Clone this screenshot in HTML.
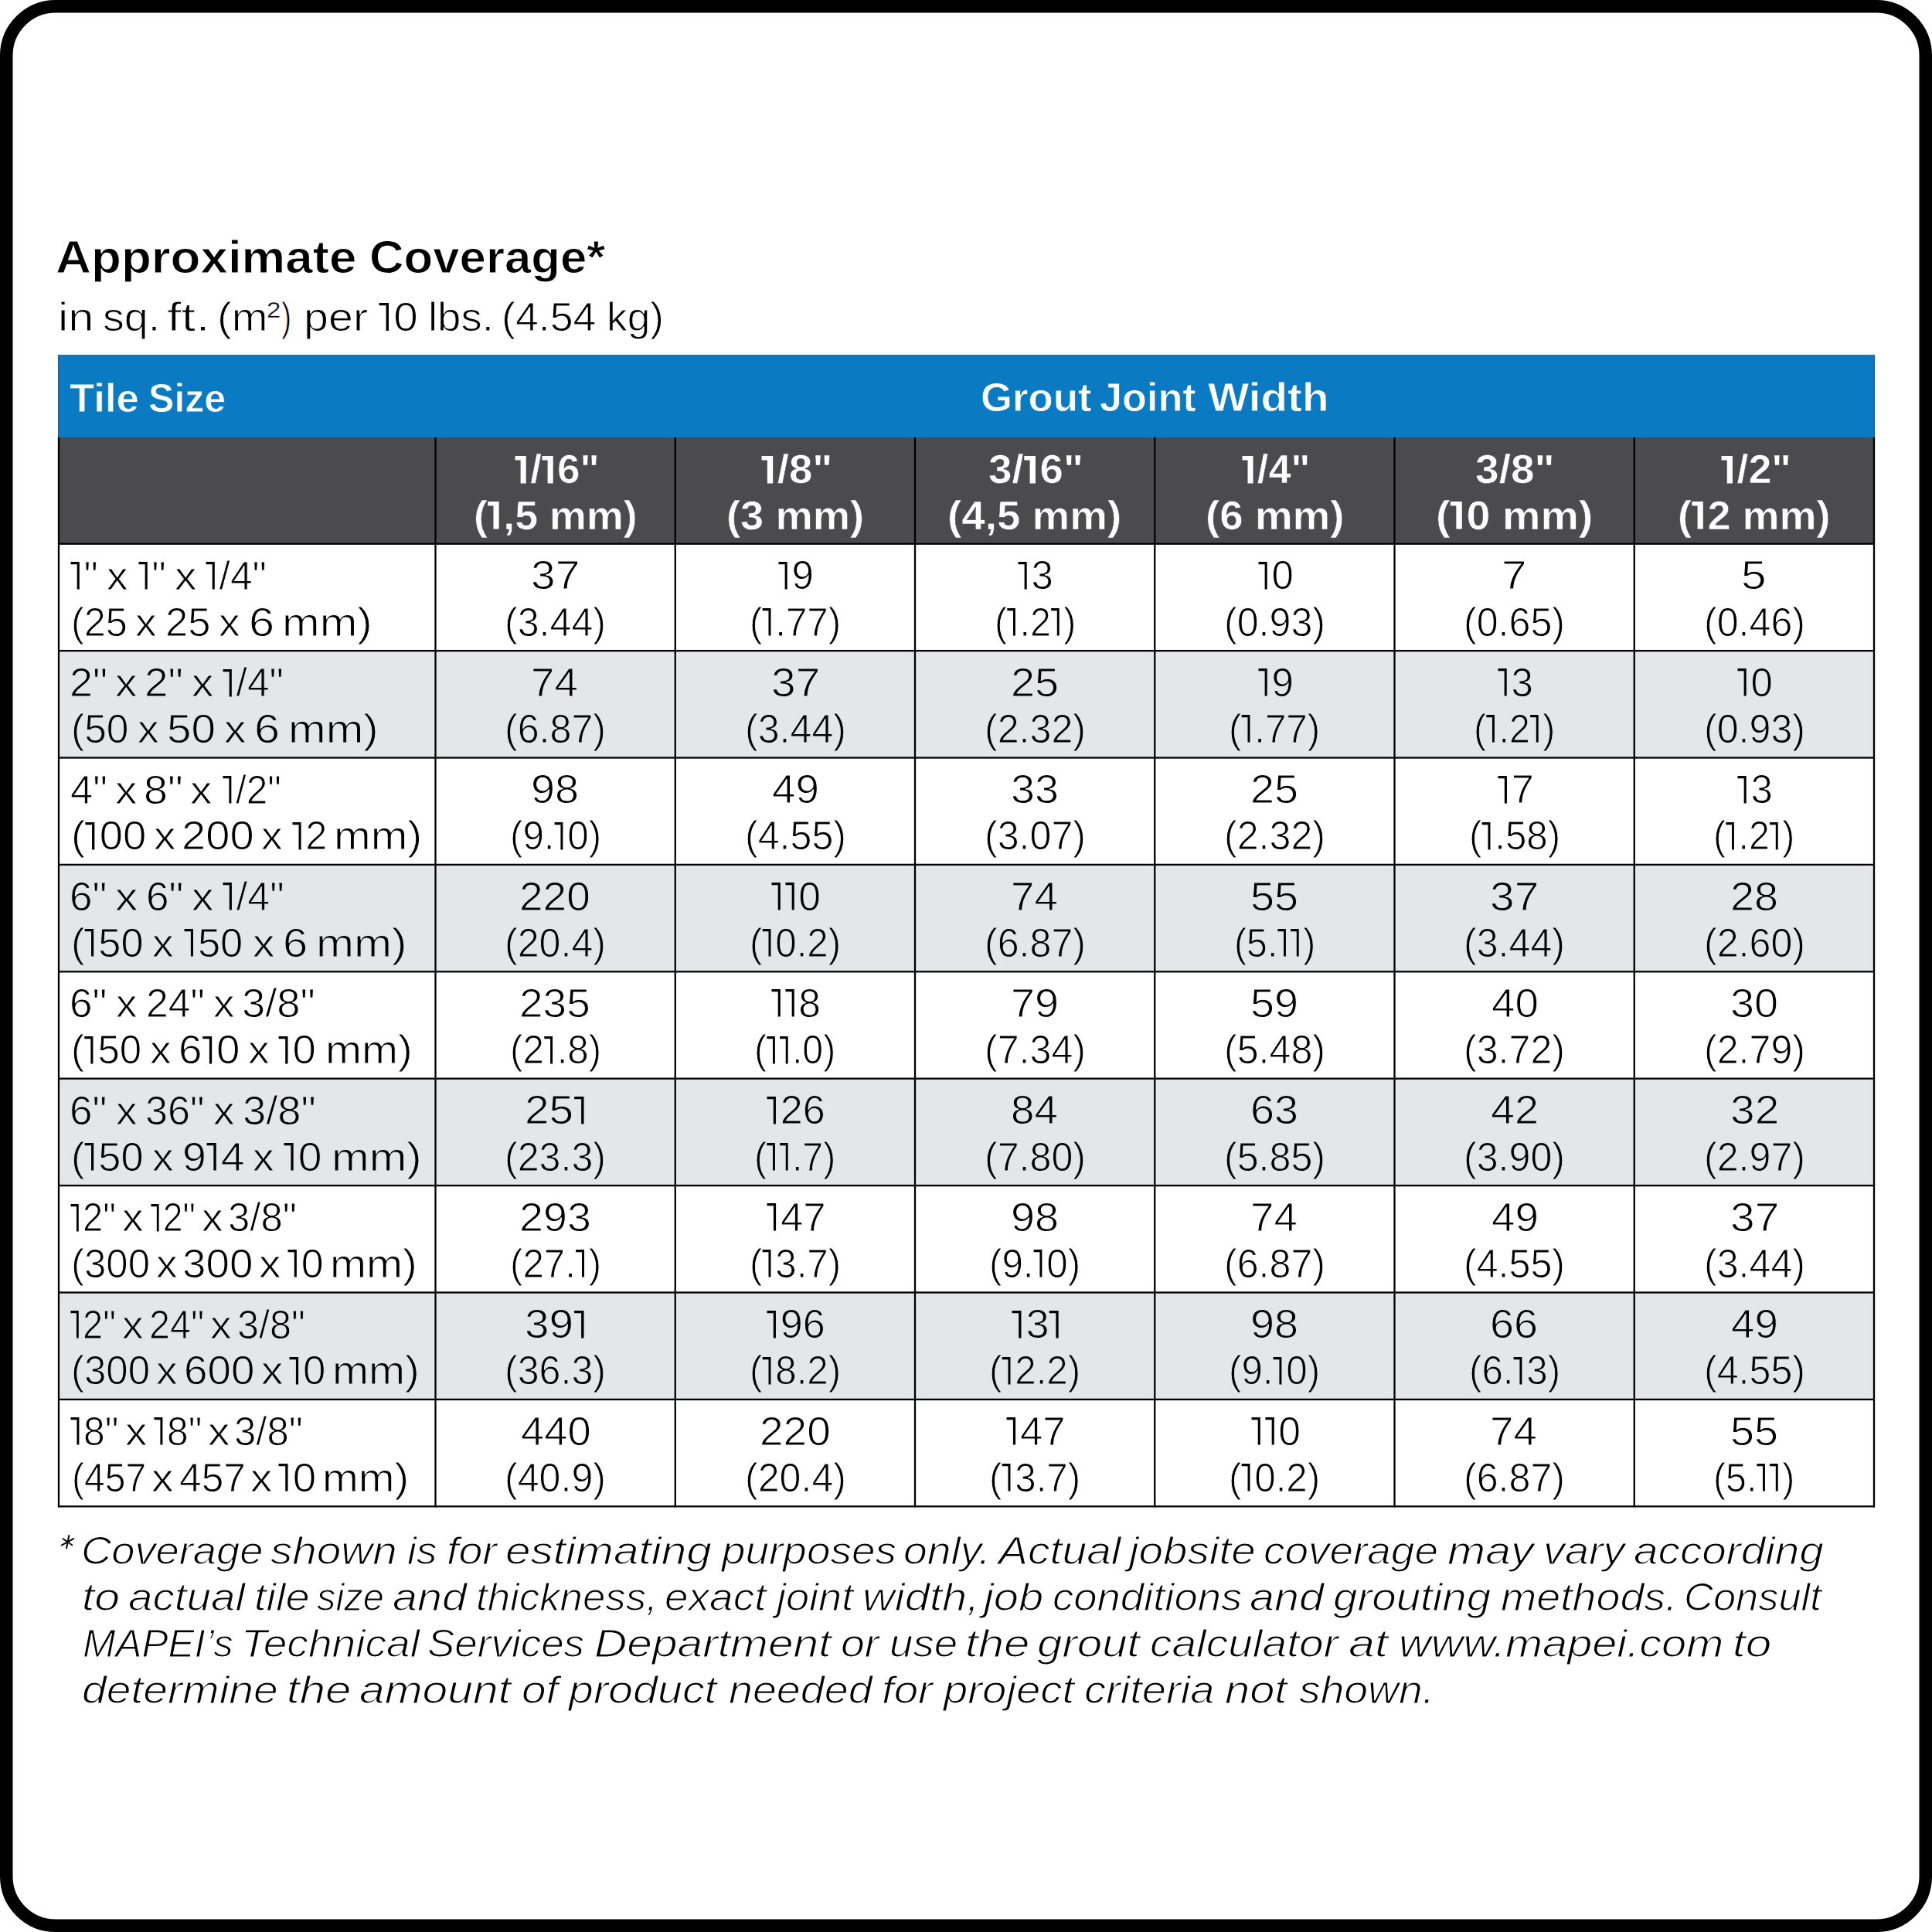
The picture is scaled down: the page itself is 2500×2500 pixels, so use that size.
<!DOCTYPE html><html><head><meta charset="utf-8"><style>html,body{margin:0;padding:0;background:#fff;width:2500px;height:2500px;overflow:hidden}.t{position:absolute;white-space:nowrap;font-family:"Liberation Sans",sans-serif;transform-origin:0 0}.o1,.ob{display:inline-block;height:.688em;vertical-align:baseline;fill:currentColor;overflow:visible}.o1{width:.341em}.ob{width:.38em}</style></head><body>
<svg width="2500" height="2500" viewBox="0 0 2500 2500" style="position:absolute;left:0;top:0"><rect x="75.0" y="459.0" width="2351.0" height="107.0" fill="#0a7bc2"/><rect x="75.0" y="566.0" width="2351.0" height="137.70000000000005" fill="#4b4b4d"/><rect x="75.0" y="842.10" width="2351.0" height="138.40" fill="#e5e6e8"/><rect x="75.0" y="1118.90" width="2351.0" height="138.40" fill="#e5e6e8"/><rect x="75.0" y="1395.70" width="2351.0" height="138.40" fill="#e5e6e8"/><rect x="75.0" y="1672.50" width="2351.0" height="138.40" fill="#e5e6e8"/><rect x="75.0" y="459.0" width="1.2" height="107.0" fill="#1b5a87"/><rect x="2424.8" y="459.0" width="1.2" height="107.0" fill="#1b5a87"/><rect x="74.85" y="566.0" width="2.3" height="1384.45" fill="#000"/><rect x="562.35" y="566.0" width="2.3" height="1384.45" fill="#000"/><rect x="872.60" y="566.0" width="2.3" height="1384.45" fill="#000"/><rect x="1182.85" y="566.0" width="2.3" height="1384.45" fill="#000"/><rect x="1493.10" y="566.0" width="2.3" height="1384.45" fill="#000"/><rect x="1803.35" y="566.0" width="2.3" height="1384.45" fill="#000"/><rect x="2113.60" y="566.0" width="2.3" height="1384.45" fill="#000"/><rect x="2423.85" y="566.0" width="2.3" height="1384.45" fill="#000"/><rect x="75.0" y="702.55" width="2351.0" height="2.3" fill="#000"/><rect x="75.0" y="840.95" width="2351.0" height="2.3" fill="#000"/><rect x="75.0" y="979.35" width="2351.0" height="2.3" fill="#000"/><rect x="75.0" y="1117.75" width="2351.0" height="2.3" fill="#000"/><rect x="75.0" y="1256.15" width="2351.0" height="2.3" fill="#000"/><rect x="75.0" y="1394.55" width="2351.0" height="2.3" fill="#000"/><rect x="75.0" y="1532.95" width="2351.0" height="2.3" fill="#000"/><rect x="75.0" y="1671.35" width="2351.0" height="2.3" fill="#000"/><rect x="75.0" y="1809.75" width="2351.0" height="2.3" fill="#000"/><rect x="75.0" y="1948.15" width="2351.0" height="2.3" fill="#000"/><rect x="8.25" y="8.25" width="2483.5" height="2483.5" rx="63.75" ry="63.75" fill="none" stroke="#000" stroke-width="16.5"/><g stroke="#000" stroke-width="2.0" fill="none"><line x1="89.4" y1="1986.3" x2="85.9" y2="2004.0"/><line x1="81.0" y1="1990.8" x2="93.9" y2="1999.7"/><line x1="95.9" y1="1990.7" x2="79.2" y2="1999.8"/></g></svg>
<div class="t" style="left:72.29px;top:302.80px;font-size:59.6px;line-height:59.6px;font-weight:700;font-style:normal;color:#000;transform:scaleX(1.0688);-webkit-text-stroke:1.0px #fff">Approximate</div>
<div class="t" style="left:477.59px;top:302.80px;font-size:59.6px;line-height:59.6px;font-weight:700;font-style:normal;color:#000;transform:scaleX(1.0354);-webkit-text-stroke:1.0px #fff">Coverage*</div>
<div class="t" style="left:74.54px;top:384.20px;font-size:52.3px;line-height:52.3px;font-weight:400;font-style:normal;color:#000;transform:scaleX(1.1394);-webkit-text-stroke:1.0px #fff">in</div>
<div class="t" style="left:133.37px;top:384.20px;font-size:52.3px;line-height:52.3px;font-weight:400;font-style:normal;color:#000;transform:scaleX(1.0645);-webkit-text-stroke:1.0px #fff">sq.</div>
<div class="t" style="left:215.62px;top:384.20px;font-size:52.3px;line-height:52.3px;font-weight:400;font-style:normal;color:#000;transform:scaleX(1.2784);-webkit-text-stroke:1.0px #fff">ft.</div>
<div class="t" style="left:281.11px;top:384.20px;font-size:52.3px;line-height:52.3px;font-weight:400;font-style:normal;color:#000;transform:scaleX(1.0736);-webkit-text-stroke:1.0px #fff">(m</div>
<div class="t" style="left:363.58px;top:384.20px;font-size:52.3px;line-height:52.3px;font-weight:400;font-style:normal;color:#000;transform:scaleX(0.7583);-webkit-text-stroke:1.0px #fff">)</div>
<div class="t" style="left:392.61px;top:384.20px;font-size:52.3px;line-height:52.3px;font-weight:400;font-style:normal;color:#000;transform:scaleX(1.0986);-webkit-text-stroke:1.0px #fff">per</div>
<div class="t" style="left:489.70px;top:384.20px;font-size:52.3px;line-height:52.3px;font-weight:400;font-style:normal;color:#000;transform:scaleX(1.0841);-webkit-text-stroke:1.0px #fff"><svg class="o1" viewBox="0 0 341 688"><path d="M169 0H229V688H169ZM10 0H229V62H10Z"/></svg>0</div>
<div class="t" style="left:553.53px;top:384.20px;font-size:52.3px;line-height:52.3px;font-weight:400;font-style:normal;color:#000;transform:scaleX(1.0431);-webkit-text-stroke:1.0px #fff">lbs.</div>
<div class="t" style="left:649.19px;top:384.20px;font-size:52.3px;line-height:52.3px;font-weight:400;font-style:normal;color:#000;transform:scaleX(1.0274);-webkit-text-stroke:1.0px #fff">(4.54</div>
<div class="t" style="left:784.93px;top:384.20px;font-size:52.3px;line-height:52.3px;font-weight:400;font-style:normal;color:#000;transform:scaleX(1.0185);-webkit-text-stroke:1.0px #fff">kg)</div>
<div class="t" style="left:345.20px;top:386.00px;font-size:30px;line-height:30px;font-weight:400;font-style:normal;color:#000;transform:scaleX(1.1000);-webkit-text-stroke:0.4px #fff">2</div>
<div class="t" style="left:89.98px;top:489.50px;font-size:51.5px;line-height:51.5px;font-weight:700;font-style:normal;color:#fff;transform:scaleX(1.0247);-webkit-text-stroke:0.8px #0a7bc2">Tile</div>
<div class="t" style="left:192.36px;top:489.50px;font-size:51.5px;line-height:51.5px;font-weight:700;font-style:normal;color:#fff;transform:scaleX(0.9717);-webkit-text-stroke:0.8px #0a7bc2">Size</div>
<div class="t" style="left:1268.52px;top:489.30px;font-size:51.5px;line-height:51.5px;font-weight:700;font-style:normal;color:#fff;transform:scaleX(1.0250);-webkit-text-stroke:0.8px #0a7bc2">Grout</div>
<div class="t" style="left:1422.97px;top:489.30px;font-size:51.5px;line-height:51.5px;font-weight:700;font-style:normal;color:#fff;transform:scaleX(1.0142);-webkit-text-stroke:0.8px #0a7bc2">Joint</div>
<div class="t" style="left:1563.40px;top:489.30px;font-size:51.5px;line-height:51.5px;font-weight:700;font-style:normal;color:#fff;transform:scaleX(1.0978);-webkit-text-stroke:0.8px #0a7bc2">Width</div>
<div class="t" style="left:665.62px;top:582.40px;font-size:51.5px;line-height:51.5px;font-weight:700;font-style:normal;color:#fff;transform:scaleX(1.0291);-webkit-text-stroke:0.6px #4b4b4d"><svg class="ob" viewBox="0 0 380 688"><path d="M144 0H278V688H144ZM10 0H278V106H10Z"/></svg>/<svg class="ob" viewBox="0 0 380 688"><path d="M144 0H278V688H144ZM10 0H278V106H10Z"/></svg>6&quot;</div>
<div class="t" style="left:612.69px;top:641.70px;font-size:51.5px;line-height:51.5px;font-weight:700;font-style:normal;color:#fff;transform:scaleX(1.0437);-webkit-text-stroke:0.6px #4b4b4d">(<svg class="ob" viewBox="0 0 380 688"><path d="M144 0H278V688H144ZM10 0H278V106H10Z"/></svg>,5 mm)</div>
<div class="t" style="left:984.83px;top:582.40px;font-size:51.5px;line-height:51.5px;font-weight:700;font-style:normal;color:#fff;transform:scaleX(1.0614);-webkit-text-stroke:0.6px #4b4b4d"><svg class="ob" viewBox="0 0 380 688"><path d="M144 0H278V688H144ZM10 0H278V106H10Z"/></svg>/8&quot;</div>
<div class="t" style="left:939.76px;top:641.70px;font-size:51.5px;line-height:51.5px;font-weight:700;font-style:normal;color:#fff;transform:scaleX(1.0546);-webkit-text-stroke:0.6px #4b4b4d">(3 mm)</div>
<div class="t" style="left:1278.50px;top:582.40px;font-size:51.5px;line-height:51.5px;font-weight:700;font-style:normal;color:#fff;transform:scaleX(1.0636);-webkit-text-stroke:0.6px #4b4b4d">3/<svg class="ob" viewBox="0 0 380 688"><path d="M144 0H278V688H144ZM10 0H278V106H10Z"/></svg>6&quot;</div>
<div class="t" style="left:1226.38px;top:641.70px;font-size:51.5px;line-height:51.5px;font-weight:700;font-style:normal;color:#fff;transform:scaleX(1.0636);-webkit-text-stroke:0.6px #4b4b4d">(4,5 mm)</div>
<div class="t" style="left:1607.22px;top:582.40px;font-size:51.5px;line-height:51.5px;font-weight:700;font-style:normal;color:#fff;transform:scaleX(1.0157);-webkit-text-stroke:0.6px #4b4b4d"><svg class="ob" viewBox="0 0 380 688"><path d="M144 0H278V688H144ZM10 0H278V106H10Z"/></svg>/4&quot;</div>
<div class="t" style="left:1559.54px;top:641.70px;font-size:51.5px;line-height:51.5px;font-weight:700;font-style:normal;color:#fff;transform:scaleX(1.0632);-webkit-text-stroke:0.6px #4b4b4d">(6 mm)</div>
<div class="t" style="left:1909.33px;top:582.40px;font-size:51.5px;line-height:51.5px;font-weight:700;font-style:normal;color:#fff;transform:scaleX(1.0700);-webkit-text-stroke:0.6px #4b4b4d">3/8&quot;</div>
<div class="t" style="left:1858.19px;top:641.70px;font-size:51.5px;line-height:51.5px;font-weight:700;font-style:normal;color:#fff;transform:scaleX(1.0791);-webkit-text-stroke:0.6px #4b4b4d">(<svg class="ob" viewBox="0 0 380 688"><path d="M144 0H278V688H144ZM10 0H278V106H10Z"/></svg>0 mm)</div>
<div class="t" style="left:2226.53px;top:582.40px;font-size:51.5px;line-height:51.5px;font-weight:700;font-style:normal;color:#fff;transform:scaleX(1.0446);-webkit-text-stroke:0.6px #4b4b4d"><svg class="ob" viewBox="0 0 380 688"><path d="M144 0H278V688H144ZM10 0H278V106H10Z"/></svg>/2&quot;</div>
<div class="t" style="left:2171.38px;top:641.70px;font-size:51.5px;line-height:51.5px;font-weight:700;font-style:normal;color:#fff;transform:scaleX(1.0478);-webkit-text-stroke:0.6px #4b4b4d">(<svg class="ob" viewBox="0 0 380 688"><path d="M144 0H278V688H144ZM10 0H278V106H10Z"/></svg>2 mm)</div>
<div class="t" style="left:91.20px;top:719.75px;font-size:51.8px;line-height:51.8px;font-weight:400;font-style:normal;color:#000;transform:scaleX(0.9939);-webkit-text-stroke:1.0px #fff"><svg class="o1" viewBox="0 0 341 688"><path d="M169 0H229V688H169ZM10 0H229V62H10Z"/></svg>&quot;</div>
<div class="t" style="left:138.27px;top:719.75px;font-size:51.8px;line-height:51.8px;font-weight:400;font-style:normal;color:#000;transform:scaleX(1.0636);-webkit-text-stroke:1.0px #fff">x</div>
<div class="t" style="left:178.80px;top:719.75px;font-size:51.8px;line-height:51.8px;font-weight:400;font-style:normal;color:#000;transform:scaleX(0.9909);-webkit-text-stroke:1.0px #fff"><svg class="o1" viewBox="0 0 341 688"><path d="M169 0H229V688H169ZM10 0H229V62H10Z"/></svg>&quot;</div>
<div class="t" style="left:225.70px;top:719.75px;font-size:51.8px;line-height:51.8px;font-weight:400;font-style:normal;color:#000;transform:scaleX(1.1000);-webkit-text-stroke:1.0px #fff">x</div>
<div class="t" style="left:265.60px;top:719.75px;font-size:51.8px;line-height:51.8px;font-weight:400;font-style:normal;color:#000;transform:scaleX(0.9961);-webkit-text-stroke:1.0px #fff"><svg class="o1" viewBox="0 0 341 688"><path d="M169 0H229V688H169ZM10 0H229V62H10Z"/></svg>/4&quot;</div>
<div class="t" style="left:92.31px;top:779.65px;font-size:51.8px;line-height:51.8px;font-weight:400;font-style:normal;color:#000;transform:scaleX(0.9735);-webkit-text-stroke:1.0px #fff">(25</div>
<div class="t" style="left:175.26px;top:779.65px;font-size:51.8px;line-height:51.8px;font-weight:400;font-style:normal;color:#000;transform:scaleX(1.0682);-webkit-text-stroke:1.0px #fff">x</div>
<div class="t" style="left:214.16px;top:779.65px;font-size:51.8px;line-height:51.8px;font-weight:400;font-style:normal;color:#000;transform:scaleX(1.0135);-webkit-text-stroke:1.0px #fff">25</div>
<div class="t" style="left:283.46px;top:779.65px;font-size:51.8px;line-height:51.8px;font-weight:400;font-style:normal;color:#000;transform:scaleX(1.0682);-webkit-text-stroke:1.0px #fff">x</div>
<div class="t" style="left:322.16px;top:779.65px;font-size:51.8px;line-height:51.8px;font-weight:400;font-style:normal;color:#000;transform:scaleX(1.1478);-webkit-text-stroke:1.0px #fff">6</div>
<div class="t" style="left:365.29px;top:779.65px;font-size:51.8px;line-height:51.8px;font-weight:400;font-style:normal;color:#000;transform:scaleX(1.1271);-webkit-text-stroke:1.0px #fff">mm)</div>
<div class="t" style="left:687.33px;top:719.45px;font-size:51.8px;line-height:51.8px;font-weight:400;font-style:normal;color:#000;transform:scaleX(1.0980);-webkit-text-stroke:1.0px #fff">37</div>
<div class="t" style="left:653.25px;top:779.65px;font-size:51.8px;line-height:51.8px;font-weight:400;font-style:normal;color:#000;transform:scaleX(0.9685);-webkit-text-stroke:1.0px #fff">(3.44)</div>
<div class="t" style="left:1007.17px;top:719.45px;font-size:51.8px;line-height:51.8px;font-weight:400;font-style:normal;color:#000;transform:scaleX(0.9864);-webkit-text-stroke:1.0px #fff"><svg class="o1" viewBox="0 0 341 688"><path d="M169 0H229V688H169ZM10 0H229V62H10Z"/></svg>9</div>
<div class="t" style="left:969.87px;top:779.65px;font-size:51.8px;line-height:51.8px;font-weight:400;font-style:normal;color:#000;transform:scaleX(0.9517);-webkit-text-stroke:1.0px #fff">(<svg class="o1" viewBox="0 0 341 688"><path d="M169 0H229V688H169ZM10 0H229V62H10Z"/></svg>.77)</div>
<div class="t" style="left:1317.42px;top:719.45px;font-size:51.8px;line-height:51.8px;font-weight:400;font-style:normal;color:#000;transform:scaleX(0.9864);-webkit-text-stroke:1.0px #fff"><svg class="o1" viewBox="0 0 341 688"><path d="M169 0H229V688H169ZM10 0H229V62H10Z"/></svg>3</div>
<div class="t" style="left:1286.50px;top:779.65px;font-size:51.8px;line-height:51.8px;font-weight:400;font-style:normal;color:#000;transform:scaleX(0.9314);-webkit-text-stroke:1.0px #fff">(<svg class="o1" viewBox="0 0 341 688"><path d="M169 0H229V688H169ZM10 0H229V62H10Z"/></svg>.2<svg class="o1" viewBox="0 0 341 688"><path d="M169 0H229V688H169ZM10 0H229V62H10Z"/></svg>)</div>
<div class="t" style="left:1627.67px;top:719.45px;font-size:51.8px;line-height:51.8px;font-weight:400;font-style:normal;color:#000;transform:scaleX(0.9864);-webkit-text-stroke:1.0px #fff"><svg class="o1" viewBox="0 0 341 688"><path d="M169 0H229V688H169ZM10 0H229V62H10Z"/></svg>0</div>
<div class="t" style="left:1584.00px;top:779.65px;font-size:51.8px;line-height:51.8px;font-weight:400;font-style:normal;color:#000;transform:scaleX(0.9685);-webkit-text-stroke:1.0px #fff">(0.93)</div>
<div class="t" style="left:1943.23px;top:719.45px;font-size:51.8px;line-height:51.8px;font-weight:400;font-style:normal;color:#000;transform:scaleX(1.1304);-webkit-text-stroke:1.0px #fff">7</div>
<div class="t" style="left:1894.25px;top:779.65px;font-size:51.8px;line-height:51.8px;font-weight:400;font-style:normal;color:#000;transform:scaleX(0.9685);-webkit-text-stroke:1.0px #fff">(0.65)</div>
<div class="t" style="left:2253.48px;top:719.45px;font-size:51.8px;line-height:51.8px;font-weight:400;font-style:normal;color:#000;transform:scaleX(1.1304);-webkit-text-stroke:1.0px #fff">5</div>
<div class="t" style="left:2204.50px;top:779.65px;font-size:51.8px;line-height:51.8px;font-weight:400;font-style:normal;color:#000;transform:scaleX(0.9685);-webkit-text-stroke:1.0px #fff">(0.46)</div>
<div class="t" style="left:89.58px;top:858.15px;font-size:51.8px;line-height:51.8px;font-weight:400;font-style:normal;color:#000;transform:scaleX(1.0415);-webkit-text-stroke:1.0px #e5e6e8">2&quot;</div>
<div class="t" style="left:148.80px;top:858.15px;font-size:51.8px;line-height:51.8px;font-weight:400;font-style:normal;color:#000;transform:scaleX(1.1000);-webkit-text-stroke:1.0px #e5e6e8">x</div>
<div class="t" style="left:187.02px;top:858.15px;font-size:51.8px;line-height:51.8px;font-weight:400;font-style:normal;color:#000;transform:scaleX(1.0585);-webkit-text-stroke:1.0px #e5e6e8">2&quot;</div>
<div class="t" style="left:247.80px;top:858.15px;font-size:51.8px;line-height:51.8px;font-weight:400;font-style:normal;color:#000;transform:scaleX(1.1000);-webkit-text-stroke:1.0px #e5e6e8">x</div>
<div class="t" style="left:287.70px;top:858.15px;font-size:51.8px;line-height:51.8px;font-weight:400;font-style:normal;color:#000;transform:scaleX(0.9961);-webkit-text-stroke:1.0px #e5e6e8"><svg class="o1" viewBox="0 0 341 688"><path d="M169 0H229V688H169ZM10 0H229V62H10Z"/></svg>/4&quot;</div>
<div class="t" style="left:92.22px;top:918.05px;font-size:51.8px;line-height:51.8px;font-weight:400;font-style:normal;color:#000;transform:scaleX(0.9941);-webkit-text-stroke:1.0px #e5e6e8">(50</div>
<div class="t" style="left:178.06px;top:918.05px;font-size:51.8px;line-height:51.8px;font-weight:400;font-style:normal;color:#000;transform:scaleX(1.0682);-webkit-text-stroke:1.0px #e5e6e8">x</div>
<div class="t" style="left:216.12px;top:918.05px;font-size:51.8px;line-height:51.8px;font-weight:400;font-style:normal;color:#000;transform:scaleX(1.0942);-webkit-text-stroke:1.0px #e5e6e8">50</div>
<div class="t" style="left:289.80px;top:918.05px;font-size:51.8px;line-height:51.8px;font-weight:400;font-style:normal;color:#000;transform:scaleX(1.1000);-webkit-text-stroke:1.0px #e5e6e8">x</div>
<div class="t" style="left:329.26px;top:918.05px;font-size:51.8px;line-height:51.8px;font-weight:400;font-style:normal;color:#000;transform:scaleX(1.1478);-webkit-text-stroke:1.0px #e5e6e8">6</div>
<div class="t" style="left:373.09px;top:918.05px;font-size:51.8px;line-height:51.8px;font-weight:400;font-style:normal;color:#000;transform:scaleX(1.1271);-webkit-text-stroke:1.0px #e5e6e8">mm)</div>
<div class="t" style="left:687.46px;top:857.85px;font-size:51.8px;line-height:51.8px;font-weight:400;font-style:normal;color:#000;transform:scaleX(1.0566);-webkit-text-stroke:1.0px #e5e6e8">74</div>
<div class="t" style="left:653.25px;top:918.05px;font-size:51.8px;line-height:51.8px;font-weight:400;font-style:normal;color:#000;transform:scaleX(0.9685);-webkit-text-stroke:1.0px #e5e6e8">(6.87)</div>
<div class="t" style="left:997.58px;top:857.85px;font-size:51.8px;line-height:51.8px;font-weight:400;font-style:normal;color:#000;transform:scaleX(1.0980);-webkit-text-stroke:1.0px #e5e6e8">37</div>
<div class="t" style="left:963.50px;top:918.05px;font-size:51.8px;line-height:51.8px;font-weight:400;font-style:normal;color:#000;transform:scaleX(0.9685);-webkit-text-stroke:1.0px #e5e6e8">(3.44)</div>
<div class="t" style="left:1307.89px;top:857.85px;font-size:51.8px;line-height:51.8px;font-weight:400;font-style:normal;color:#000;transform:scaleX(1.0769);-webkit-text-stroke:1.0px #e5e6e8">25</div>
<div class="t" style="left:1273.75px;top:918.05px;font-size:51.8px;line-height:51.8px;font-weight:400;font-style:normal;color:#000;transform:scaleX(0.9685);-webkit-text-stroke:1.0px #e5e6e8">(2.32)</div>
<div class="t" style="left:1627.67px;top:857.85px;font-size:51.8px;line-height:51.8px;font-weight:400;font-style:normal;color:#000;transform:scaleX(0.9864);-webkit-text-stroke:1.0px #e5e6e8"><svg class="o1" viewBox="0 0 341 688"><path d="M169 0H229V688H169ZM10 0H229V62H10Z"/></svg>9</div>
<div class="t" style="left:1590.37px;top:918.05px;font-size:51.8px;line-height:51.8px;font-weight:400;font-style:normal;color:#000;transform:scaleX(0.9517);-webkit-text-stroke:1.0px #e5e6e8">(<svg class="o1" viewBox="0 0 341 688"><path d="M169 0H229V688H169ZM10 0H229V62H10Z"/></svg>.77)</div>
<div class="t" style="left:1937.92px;top:857.85px;font-size:51.8px;line-height:51.8px;font-weight:400;font-style:normal;color:#000;transform:scaleX(0.9864);-webkit-text-stroke:1.0px #e5e6e8"><svg class="o1" viewBox="0 0 341 688"><path d="M169 0H229V688H169ZM10 0H229V62H10Z"/></svg>3</div>
<div class="t" style="left:1907.00px;top:918.05px;font-size:51.8px;line-height:51.8px;font-weight:400;font-style:normal;color:#000;transform:scaleX(0.9314);-webkit-text-stroke:1.0px #e5e6e8">(<svg class="o1" viewBox="0 0 341 688"><path d="M169 0H229V688H169ZM10 0H229V62H10Z"/></svg>.2<svg class="o1" viewBox="0 0 341 688"><path d="M169 0H229V688H169ZM10 0H229V62H10Z"/></svg>)</div>
<div class="t" style="left:2248.18px;top:857.85px;font-size:51.8px;line-height:51.8px;font-weight:400;font-style:normal;color:#000;transform:scaleX(0.9864);-webkit-text-stroke:1.0px #e5e6e8"><svg class="o1" viewBox="0 0 341 688"><path d="M169 0H229V688H169ZM10 0H229V62H10Z"/></svg>0</div>
<div class="t" style="left:2204.50px;top:918.05px;font-size:51.8px;line-height:51.8px;font-weight:400;font-style:normal;color:#000;transform:scaleX(0.9685);-webkit-text-stroke:1.0px #e5e6e8">(0.93)</div>
<div class="t" style="left:90.67px;top:996.55px;font-size:51.8px;line-height:51.8px;font-weight:400;font-style:normal;color:#000;transform:scaleX(1.0167);-webkit-text-stroke:1.0px #fff">4&quot;</div>
<div class="t" style="left:148.80px;top:996.55px;font-size:51.8px;line-height:51.8px;font-weight:400;font-style:normal;color:#000;transform:scaleX(1.1000);-webkit-text-stroke:1.0px #fff">x</div>
<div class="t" style="left:186.27px;top:996.55px;font-size:51.8px;line-height:51.8px;font-weight:400;font-style:normal;color:#000;transform:scaleX(1.0756);-webkit-text-stroke:1.0px #fff">8&quot;</div>
<div class="t" style="left:245.60px;top:996.55px;font-size:51.8px;line-height:51.8px;font-weight:400;font-style:normal;color:#000;transform:scaleX(1.1000);-webkit-text-stroke:1.0px #fff">x</div>
<div class="t" style="left:287.70px;top:996.55px;font-size:51.8px;line-height:51.8px;font-weight:400;font-style:normal;color:#000;transform:scaleX(0.9579);-webkit-text-stroke:1.0px #fff"><svg class="o1" viewBox="0 0 341 688"><path d="M169 0H229V688H169ZM10 0H229V62H10Z"/></svg>/2&quot;</div>
<div class="t" style="left:92.00px;top:1056.45px;font-size:51.8px;line-height:51.8px;font-weight:400;font-style:normal;color:#000;transform:scaleX(1.0512);-webkit-text-stroke:1.0px #fff">(<svg class="o1" viewBox="0 0 341 688"><path d="M169 0H229V688H169ZM10 0H229V62H10Z"/></svg>00</div>
<div class="t" style="left:198.70px;top:1056.45px;font-size:51.8px;line-height:51.8px;font-weight:400;font-style:normal;color:#000;transform:scaleX(1.1000);-webkit-text-stroke:1.0px #fff">x</div>
<div class="t" style="left:235.35px;top:1056.45px;font-size:51.8px;line-height:51.8px;font-weight:400;font-style:normal;color:#000;transform:scaleX(1.0827);-webkit-text-stroke:1.0px #fff">200</div>
<div class="t" style="left:338.46px;top:1056.45px;font-size:51.8px;line-height:51.8px;font-weight:400;font-style:normal;color:#000;transform:scaleX(1.0682);-webkit-text-stroke:1.0px #fff">x</div>
<div class="t" style="left:377.60px;top:1056.45px;font-size:51.8px;line-height:51.8px;font-weight:400;font-style:normal;color:#000;transform:scaleX(0.9767);-webkit-text-stroke:1.0px #fff"><svg class="o1" viewBox="0 0 341 688"><path d="M169 0H229V688H169ZM10 0H229V62H10Z"/></svg>2</div>
<div class="t" style="left:432.28px;top:1056.45px;font-size:51.8px;line-height:51.8px;font-weight:400;font-style:normal;color:#000;transform:scaleX(1.1042);-webkit-text-stroke:1.0px #fff">mm)</div>
<div class="t" style="left:687.39px;top:996.25px;font-size:51.8px;line-height:51.8px;font-weight:400;font-style:normal;color:#000;transform:scaleX(1.0769);-webkit-text-stroke:1.0px #fff">98</div>
<div class="t" style="left:659.62px;top:1056.45px;font-size:51.8px;line-height:51.8px;font-weight:400;font-style:normal;color:#000;transform:scaleX(0.9517);-webkit-text-stroke:1.0px #fff">(9.<svg class="o1" viewBox="0 0 341 688"><path d="M169 0H229V688H169ZM10 0H229V62H10Z"/></svg>0)</div>
<div class="t" style="left:998.76px;top:996.25px;font-size:51.8px;line-height:51.8px;font-weight:400;font-style:normal;color:#000;transform:scaleX(1.0566);-webkit-text-stroke:1.0px #fff">49</div>
<div class="t" style="left:963.50px;top:1056.45px;font-size:51.8px;line-height:51.8px;font-weight:400;font-style:normal;color:#000;transform:scaleX(0.9685);-webkit-text-stroke:1.0px #fff">(4.55)</div>
<div class="t" style="left:1307.89px;top:996.25px;font-size:51.8px;line-height:51.8px;font-weight:400;font-style:normal;color:#000;transform:scaleX(1.0769);-webkit-text-stroke:1.0px #fff">33</div>
<div class="t" style="left:1273.75px;top:1056.45px;font-size:51.8px;line-height:51.8px;font-weight:400;font-style:normal;color:#000;transform:scaleX(0.9685);-webkit-text-stroke:1.0px #fff">(3.07)</div>
<div class="t" style="left:1618.14px;top:996.25px;font-size:51.8px;line-height:51.8px;font-weight:400;font-style:normal;color:#000;transform:scaleX(1.0769);-webkit-text-stroke:1.0px #fff">25</div>
<div class="t" style="left:1584.00px;top:1056.45px;font-size:51.8px;line-height:51.8px;font-weight:400;font-style:normal;color:#000;transform:scaleX(0.9685);-webkit-text-stroke:1.0px #fff">(2.32)</div>
<div class="t" style="left:1937.92px;top:996.25px;font-size:51.8px;line-height:51.8px;font-weight:400;font-style:normal;color:#000;transform:scaleX(1.0093);-webkit-text-stroke:1.0px #fff"><svg class="o1" viewBox="0 0 341 688"><path d="M169 0H229V688H169ZM10 0H229V62H10Z"/></svg>7</div>
<div class="t" style="left:1900.62px;top:1056.45px;font-size:51.8px;line-height:51.8px;font-weight:400;font-style:normal;color:#000;transform:scaleX(0.9517);-webkit-text-stroke:1.0px #fff">(<svg class="o1" viewBox="0 0 341 688"><path d="M169 0H229V688H169ZM10 0H229V62H10Z"/></svg>.58)</div>
<div class="t" style="left:2248.18px;top:996.25px;font-size:51.8px;line-height:51.8px;font-weight:400;font-style:normal;color:#000;transform:scaleX(0.9864);-webkit-text-stroke:1.0px #fff"><svg class="o1" viewBox="0 0 341 688"><path d="M169 0H229V688H169ZM10 0H229V62H10Z"/></svg>3</div>
<div class="t" style="left:2217.25px;top:1056.45px;font-size:51.8px;line-height:51.8px;font-weight:400;font-style:normal;color:#000;transform:scaleX(0.9314);-webkit-text-stroke:1.0px #fff">(<svg class="o1" viewBox="0 0 341 688"><path d="M169 0H229V688H169ZM10 0H229V62H10Z"/></svg>.2<svg class="o1" viewBox="0 0 341 688"><path d="M169 0H229V688H169ZM10 0H229V62H10Z"/></svg>)</div>
<div class="t" style="left:90.33px;top:1134.95px;font-size:51.8px;line-height:51.8px;font-weight:400;font-style:normal;color:#000;transform:scaleX(1.0244);-webkit-text-stroke:1.0px #e5e6e8">6&quot;</div>
<div class="t" style="left:149.43px;top:1134.95px;font-size:51.8px;line-height:51.8px;font-weight:400;font-style:normal;color:#000;transform:scaleX(1.1364);-webkit-text-stroke:1.0px #e5e6e8">x</div>
<div class="t" style="left:189.23px;top:1134.95px;font-size:51.8px;line-height:51.8px;font-weight:400;font-style:normal;color:#000;transform:scaleX(1.0244);-webkit-text-stroke:1.0px #e5e6e8">6&quot;</div>
<div class="t" style="left:247.80px;top:1134.95px;font-size:51.8px;line-height:51.8px;font-weight:400;font-style:normal;color:#000;transform:scaleX(1.1000);-webkit-text-stroke:1.0px #e5e6e8">x</div>
<div class="t" style="left:288.40px;top:1134.95px;font-size:51.8px;line-height:51.8px;font-weight:400;font-style:normal;color:#000;transform:scaleX(1.0053);-webkit-text-stroke:1.0px #e5e6e8"><svg class="o1" viewBox="0 0 341 688"><path d="M169 0H229V688H169ZM10 0H229V62H10Z"/></svg>/4&quot;</div>
<div class="t" style="left:92.16px;top:1194.85px;font-size:51.8px;line-height:51.8px;font-weight:400;font-style:normal;color:#000;transform:scaleX(1.0105);-webkit-text-stroke:1.0px #e5e6e8">(<svg class="o1" viewBox="0 0 341 688"><path d="M169 0H229V688H169ZM10 0H229V62H10Z"/></svg>50</div>
<div class="t" style="left:197.26px;top:1194.85px;font-size:51.8px;line-height:51.8px;font-weight:400;font-style:normal;color:#000;transform:scaleX(1.0682);-webkit-text-stroke:1.0px #e5e6e8">x</div>
<div class="t" style="left:237.90px;top:1194.85px;font-size:51.8px;line-height:51.8px;font-weight:400;font-style:normal;color:#000;transform:scaleX(1.0137);-webkit-text-stroke:1.0px #e5e6e8"><svg class="o1" viewBox="0 0 341 688"><path d="M169 0H229V688H169ZM10 0H229V62H10Z"/></svg>50</div>
<div class="t" style="left:327.00px;top:1194.85px;font-size:51.8px;line-height:51.8px;font-weight:400;font-style:normal;color:#000;transform:scaleX(1.1000);-webkit-text-stroke:1.0px #e5e6e8">x</div>
<div class="t" style="left:365.65px;top:1194.85px;font-size:51.8px;line-height:51.8px;font-weight:400;font-style:normal;color:#000;transform:scaleX(1.1174);-webkit-text-stroke:1.0px #e5e6e8">6</div>
<div class="t" style="left:408.66px;top:1194.85px;font-size:51.8px;line-height:51.8px;font-weight:400;font-style:normal;color:#000;transform:scaleX(1.1344);-webkit-text-stroke:1.0px #e5e6e8">mm)</div>
<div class="t" style="left:672.44px;top:1134.65px;font-size:51.8px;line-height:51.8px;font-weight:400;font-style:normal;color:#000;transform:scaleX(1.0617);-webkit-text-stroke:1.0px #e5e6e8">220</div>
<div class="t" style="left:653.25px;top:1194.85px;font-size:51.8px;line-height:51.8px;font-weight:400;font-style:normal;color:#000;transform:scaleX(0.9685);-webkit-text-stroke:1.0px #e5e6e8">(20.4)</div>
<div class="t" style="left:998.48px;top:1134.65px;font-size:51.8px;line-height:51.8px;font-weight:400;font-style:normal;color:#000;transform:scaleX(0.9967);-webkit-text-stroke:1.0px #e5e6e8"><svg class="o1" viewBox="0 0 341 688"><path d="M169 0H229V688H169ZM10 0H229V62H10Z"/></svg><svg class="o1" viewBox="0 0 341 688"><path d="M169 0H229V688H169ZM10 0H229V62H10Z"/></svg>0</div>
<div class="t" style="left:969.87px;top:1194.85px;font-size:51.8px;line-height:51.8px;font-weight:400;font-style:normal;color:#000;transform:scaleX(0.9517);-webkit-text-stroke:1.0px #e5e6e8">(<svg class="o1" viewBox="0 0 341 688"><path d="M169 0H229V688H169ZM10 0H229V62H10Z"/></svg>0.2)</div>
<div class="t" style="left:1307.96px;top:1134.65px;font-size:51.8px;line-height:51.8px;font-weight:400;font-style:normal;color:#000;transform:scaleX(1.0566);-webkit-text-stroke:1.0px #e5e6e8">74</div>
<div class="t" style="left:1273.75px;top:1194.85px;font-size:51.8px;line-height:51.8px;font-weight:400;font-style:normal;color:#000;transform:scaleX(0.9685);-webkit-text-stroke:1.0px #e5e6e8">(6.87)</div>
<div class="t" style="left:1618.14px;top:1134.65px;font-size:51.8px;line-height:51.8px;font-weight:400;font-style:normal;color:#000;transform:scaleX(1.0769);-webkit-text-stroke:1.0px #e5e6e8">55</div>
<div class="t" style="left:1596.75px;top:1194.85px;font-size:51.8px;line-height:51.8px;font-weight:400;font-style:normal;color:#000;transform:scaleX(0.9314);-webkit-text-stroke:1.0px #e5e6e8">(5.<svg class="o1" viewBox="0 0 341 688"><path d="M169 0H229V688H169ZM10 0H229V62H10Z"/></svg><svg class="o1" viewBox="0 0 341 688"><path d="M169 0H229V688H169ZM10 0H229V62H10Z"/></svg>)</div>
<div class="t" style="left:1928.33px;top:1134.65px;font-size:51.8px;line-height:51.8px;font-weight:400;font-style:normal;color:#000;transform:scaleX(1.0980);-webkit-text-stroke:1.0px #e5e6e8">37</div>
<div class="t" style="left:1894.25px;top:1194.85px;font-size:51.8px;line-height:51.8px;font-weight:400;font-style:normal;color:#000;transform:scaleX(0.9685);-webkit-text-stroke:1.0px #e5e6e8">(3.44)</div>
<div class="t" style="left:2238.64px;top:1134.65px;font-size:51.8px;line-height:51.8px;font-weight:400;font-style:normal;color:#000;transform:scaleX(1.0769);-webkit-text-stroke:1.0px #e5e6e8">28</div>
<div class="t" style="left:2204.50px;top:1194.85px;font-size:51.8px;line-height:51.8px;font-weight:400;font-style:normal;color:#000;transform:scaleX(0.9685);-webkit-text-stroke:1.0px #e5e6e8">(2.60)</div>
<div class="t" style="left:90.33px;top:1273.35px;font-size:51.8px;line-height:51.8px;font-weight:400;font-style:normal;color:#000;transform:scaleX(1.0244);-webkit-text-stroke:1.0px #fff">6&quot;</div>
<div class="t" style="left:150.37px;top:1273.35px;font-size:51.8px;line-height:51.8px;font-weight:400;font-style:normal;color:#000;transform:scaleX(1.0636);-webkit-text-stroke:1.0px #fff">x</div>
<div class="t" style="left:188.61px;top:1273.35px;font-size:51.8px;line-height:51.8px;font-weight:400;font-style:normal;color:#000;transform:scaleX(0.9971);-webkit-text-stroke:1.0px #fff">24&quot;</div>
<div class="t" style="left:276.37px;top:1273.35px;font-size:51.8px;line-height:51.8px;font-weight:400;font-style:normal;color:#000;transform:scaleX(1.0636);-webkit-text-stroke:1.0px #fff">x</div>
<div class="t" style="left:313.05px;top:1273.35px;font-size:51.8px;line-height:51.8px;font-weight:400;font-style:normal;color:#000;transform:scaleX(1.0494);-webkit-text-stroke:1.0px #fff">3/8&quot;</div>
<div class="t" style="left:92.26px;top:1333.25px;font-size:51.8px;line-height:51.8px;font-weight:400;font-style:normal;color:#000;transform:scaleX(0.9849);-webkit-text-stroke:1.0px #fff">(<svg class="o1" viewBox="0 0 341 688"><path d="M169 0H229V688H169ZM10 0H229V62H10Z"/></svg>50</div>
<div class="t" style="left:194.46px;top:1333.25px;font-size:51.8px;line-height:51.8px;font-weight:400;font-style:normal;color:#000;transform:scaleX(1.0682);-webkit-text-stroke:1.0px #fff">x</div>
<div class="t" style="left:231.13px;top:1333.25px;font-size:51.8px;line-height:51.8px;font-weight:400;font-style:normal;color:#000;transform:scaleX(1.0571);-webkit-text-stroke:1.0px #fff">6<svg class="o1" viewBox="0 0 341 688"><path d="M169 0H229V688H169ZM10 0H229V62H10Z"/></svg>0</div>
<div class="t" style="left:321.36px;top:1333.25px;font-size:51.8px;line-height:51.8px;font-weight:400;font-style:normal;color:#000;transform:scaleX(1.0682);-webkit-text-stroke:1.0px #fff">x</div>
<div class="t" style="left:359.80px;top:1333.25px;font-size:51.8px;line-height:51.8px;font-weight:400;font-style:normal;color:#000;transform:scaleX(1.0523);-webkit-text-stroke:1.0px #fff"><svg class="o1" viewBox="0 0 341 688"><path d="M169 0H229V688H169ZM10 0H229V62H10Z"/></svg>0</div>
<div class="t" style="left:420.94px;top:1333.25px;font-size:51.8px;line-height:51.8px;font-weight:400;font-style:normal;color:#000;transform:scaleX(1.0896);-webkit-text-stroke:1.0px #fff">mm)</div>
<div class="t" style="left:672.44px;top:1273.05px;font-size:51.8px;line-height:51.8px;font-weight:400;font-style:normal;color:#000;transform:scaleX(1.0617);-webkit-text-stroke:1.0px #fff">235</div>
<div class="t" style="left:659.62px;top:1333.25px;font-size:51.8px;line-height:51.8px;font-weight:400;font-style:normal;color:#000;transform:scaleX(0.9517);-webkit-text-stroke:1.0px #fff">(2<svg class="o1" viewBox="0 0 341 688"><path d="M169 0H229V688H169ZM10 0H229V62H10Z"/></svg>.8)</div>
<div class="t" style="left:998.48px;top:1273.05px;font-size:51.8px;line-height:51.8px;font-weight:400;font-style:normal;color:#000;transform:scaleX(0.9967);-webkit-text-stroke:1.0px #fff"><svg class="o1" viewBox="0 0 341 688"><path d="M169 0H229V688H169ZM10 0H229V62H10Z"/></svg><svg class="o1" viewBox="0 0 341 688"><path d="M169 0H229V688H169ZM10 0H229V62H10Z"/></svg>8</div>
<div class="t" style="left:976.25px;top:1333.25px;font-size:51.8px;line-height:51.8px;font-weight:400;font-style:normal;color:#000;transform:scaleX(0.9314);-webkit-text-stroke:1.0px #fff">(<svg class="o1" viewBox="0 0 341 688"><path d="M169 0H229V688H169ZM10 0H229V62H10Z"/></svg><svg class="o1" viewBox="0 0 341 688"><path d="M169 0H229V688H169ZM10 0H229V62H10Z"/></svg>.0)</div>
<div class="t" style="left:1307.89px;top:1273.05px;font-size:51.8px;line-height:51.8px;font-weight:400;font-style:normal;color:#000;transform:scaleX(1.0769);-webkit-text-stroke:1.0px #fff">79</div>
<div class="t" style="left:1273.75px;top:1333.25px;font-size:51.8px;line-height:51.8px;font-weight:400;font-style:normal;color:#000;transform:scaleX(0.9685);-webkit-text-stroke:1.0px #fff">(7.34)</div>
<div class="t" style="left:1618.14px;top:1273.05px;font-size:51.8px;line-height:51.8px;font-weight:400;font-style:normal;color:#000;transform:scaleX(1.0769);-webkit-text-stroke:1.0px #fff">59</div>
<div class="t" style="left:1584.00px;top:1333.25px;font-size:51.8px;line-height:51.8px;font-weight:400;font-style:normal;color:#000;transform:scaleX(0.9685);-webkit-text-stroke:1.0px #fff">(5.48)</div>
<div class="t" style="left:1929.51px;top:1273.05px;font-size:51.8px;line-height:51.8px;font-weight:400;font-style:normal;color:#000;transform:scaleX(1.0566);-webkit-text-stroke:1.0px #fff">40</div>
<div class="t" style="left:1894.25px;top:1333.25px;font-size:51.8px;line-height:51.8px;font-weight:400;font-style:normal;color:#000;transform:scaleX(0.9685);-webkit-text-stroke:1.0px #fff">(3.72)</div>
<div class="t" style="left:2238.64px;top:1273.05px;font-size:51.8px;line-height:51.8px;font-weight:400;font-style:normal;color:#000;transform:scaleX(1.0769);-webkit-text-stroke:1.0px #fff">30</div>
<div class="t" style="left:2204.50px;top:1333.25px;font-size:51.8px;line-height:51.8px;font-weight:400;font-style:normal;color:#000;transform:scaleX(0.9685);-webkit-text-stroke:1.0px #fff">(2.79)</div>
<div class="t" style="left:90.33px;top:1411.75px;font-size:51.8px;line-height:51.8px;font-weight:400;font-style:normal;color:#000;transform:scaleX(1.0244);-webkit-text-stroke:1.0px #e5e6e8">6&quot;</div>
<div class="t" style="left:150.37px;top:1411.75px;font-size:51.8px;line-height:51.8px;font-weight:400;font-style:normal;color:#000;transform:scaleX(1.0636);-webkit-text-stroke:1.0px #e5e6e8">x</div>
<div class="t" style="left:187.88px;top:1411.75px;font-size:51.8px;line-height:51.8px;font-weight:400;font-style:normal;color:#000;transform:scaleX(1.0071);-webkit-text-stroke:1.0px #e5e6e8">36&quot;</div>
<div class="t" style="left:276.37px;top:1411.75px;font-size:51.8px;line-height:51.8px;font-weight:400;font-style:normal;color:#000;transform:scaleX(1.0636);-webkit-text-stroke:1.0px #e5e6e8">x</div>
<div class="t" style="left:313.75px;top:1411.75px;font-size:51.8px;line-height:51.8px;font-weight:400;font-style:normal;color:#000;transform:scaleX(1.0494);-webkit-text-stroke:1.0px #e5e6e8">3/8&quot;</div>
<div class="t" style="left:92.16px;top:1471.65px;font-size:51.8px;line-height:51.8px;font-weight:400;font-style:normal;color:#000;transform:scaleX(1.0105);-webkit-text-stroke:1.0px #e5e6e8">(<svg class="o1" viewBox="0 0 341 688"><path d="M169 0H229V688H169ZM10 0H229V62H10Z"/></svg>50</div>
<div class="t" style="left:197.26px;top:1471.65px;font-size:51.8px;line-height:51.8px;font-weight:400;font-style:normal;color:#000;transform:scaleX(1.0682);-webkit-text-stroke:1.0px #e5e6e8">x</div>
<div class="t" style="left:236.09px;top:1471.65px;font-size:51.8px;line-height:51.8px;font-weight:400;font-style:normal;color:#000;transform:scaleX(1.0700);-webkit-text-stroke:1.0px #e5e6e8">9<svg class="o1" viewBox="0 0 341 688"><path d="M169 0H229V688H169ZM10 0H229V62H10Z"/></svg>4</div>
<div class="t" style="left:327.06px;top:1471.65px;font-size:51.8px;line-height:51.8px;font-weight:400;font-style:normal;color:#000;transform:scaleX(1.0682);-webkit-text-stroke:1.0px #e5e6e8">x</div>
<div class="t" style="left:366.90px;top:1471.65px;font-size:51.8px;line-height:51.8px;font-weight:400;font-style:normal;color:#000;transform:scaleX(1.0682);-webkit-text-stroke:1.0px #e5e6e8"><svg class="o1" viewBox="0 0 341 688"><path d="M169 0H229V688H169ZM10 0H229V62H10Z"/></svg>0</div>
<div class="t" style="left:429.29px;top:1471.65px;font-size:51.8px;line-height:51.8px;font-weight:400;font-style:normal;color:#000;transform:scaleX(1.1271);-webkit-text-stroke:1.0px #e5e6e8">mm)</div>
<div class="t" style="left:678.64px;top:1411.45px;font-size:51.8px;line-height:51.8px;font-weight:400;font-style:normal;color:#000;transform:scaleX(1.0955);-webkit-text-stroke:1.0px #e5e6e8">25<svg class="o1" viewBox="0 0 341 688"><path d="M169 0H229V688H169ZM10 0H229V62H10Z"/></svg></div>
<div class="t" style="left:653.25px;top:1471.65px;font-size:51.8px;line-height:51.8px;font-weight:400;font-style:normal;color:#000;transform:scaleX(0.9685);-webkit-text-stroke:1.0px #e5e6e8">(23.3)</div>
<div class="t" style="left:992.17px;top:1411.45px;font-size:51.8px;line-height:51.8px;font-weight:400;font-style:normal;color:#000;transform:scaleX(1.0055);-webkit-text-stroke:1.0px #e5e6e8"><svg class="o1" viewBox="0 0 341 688"><path d="M169 0H229V688H169ZM10 0H229V62H10Z"/></svg>26</div>
<div class="t" style="left:976.25px;top:1471.65px;font-size:51.8px;line-height:51.8px;font-weight:400;font-style:normal;color:#000;transform:scaleX(0.9314);-webkit-text-stroke:1.0px #e5e6e8">(<svg class="o1" viewBox="0 0 341 688"><path d="M169 0H229V688H169ZM10 0H229V62H10Z"/></svg><svg class="o1" viewBox="0 0 341 688"><path d="M169 0H229V688H169ZM10 0H229V62H10Z"/></svg>.7)</div>
<div class="t" style="left:1307.96px;top:1411.45px;font-size:51.8px;line-height:51.8px;font-weight:400;font-style:normal;color:#000;transform:scaleX(1.0566);-webkit-text-stroke:1.0px #e5e6e8">84</div>
<div class="t" style="left:1273.75px;top:1471.65px;font-size:51.8px;line-height:51.8px;font-weight:400;font-style:normal;color:#000;transform:scaleX(0.9685);-webkit-text-stroke:1.0px #e5e6e8">(7.80)</div>
<div class="t" style="left:1618.14px;top:1411.45px;font-size:51.8px;line-height:51.8px;font-weight:400;font-style:normal;color:#000;transform:scaleX(1.0769);-webkit-text-stroke:1.0px #e5e6e8">63</div>
<div class="t" style="left:1584.00px;top:1471.65px;font-size:51.8px;line-height:51.8px;font-weight:400;font-style:normal;color:#000;transform:scaleX(0.9685);-webkit-text-stroke:1.0px #e5e6e8">(5.85)</div>
<div class="t" style="left:1929.47px;top:1411.45px;font-size:51.8px;line-height:51.8px;font-weight:400;font-style:normal;color:#000;transform:scaleX(1.0769);-webkit-text-stroke:1.0px #e5e6e8">42</div>
<div class="t" style="left:1894.25px;top:1471.65px;font-size:51.8px;line-height:51.8px;font-weight:400;font-style:normal;color:#000;transform:scaleX(0.9685);-webkit-text-stroke:1.0px #e5e6e8">(3.90)</div>
<div class="t" style="left:2238.58px;top:1411.45px;font-size:51.8px;line-height:51.8px;font-weight:400;font-style:normal;color:#000;transform:scaleX(1.0980);-webkit-text-stroke:1.0px #e5e6e8">32</div>
<div class="t" style="left:2204.50px;top:1471.65px;font-size:51.8px;line-height:51.8px;font-weight:400;font-style:normal;color:#000;transform:scaleX(0.9685);-webkit-text-stroke:1.0px #e5e6e8">(2.97)</div>
<div class="t" style="left:91.20px;top:1550.15px;font-size:51.8px;line-height:51.8px;font-weight:400;font-style:normal;color:#000;transform:scaleX(0.9081);-webkit-text-stroke:1.0px #fff"><svg class="o1" viewBox="0 0 341 688"><path d="M169 0H229V688H169ZM10 0H229V62H10Z"/></svg>2&quot;</div>
<div class="t" style="left:158.16px;top:1550.15px;font-size:51.8px;line-height:51.8px;font-weight:400;font-style:normal;color:#000;transform:scaleX(1.0682);-webkit-text-stroke:1.0px #fff">x</div>
<div class="t" style="left:194.50px;top:1550.15px;font-size:51.8px;line-height:51.8px;font-weight:400;font-style:normal;color:#000;transform:scaleX(0.8952);-webkit-text-stroke:1.0px #fff"><svg class="o1" viewBox="0 0 341 688"><path d="M169 0H229V688H169ZM10 0H229V62H10Z"/></svg>2&quot;</div>
<div class="t" style="left:261.36px;top:1550.15px;font-size:51.8px;line-height:51.8px;font-weight:400;font-style:normal;color:#000;transform:scaleX(1.0682);-webkit-text-stroke:1.0px #fff">x</div>
<div class="t" style="left:294.75px;top:1550.15px;font-size:51.8px;line-height:51.8px;font-weight:400;font-style:normal;color:#000;transform:scaleX(0.9824);-webkit-text-stroke:1.0px #fff">3/8&quot;</div>
<div class="t" style="left:92.27px;top:1610.05px;font-size:51.8px;line-height:51.8px;font-weight:400;font-style:normal;color:#000;transform:scaleX(0.9835);-webkit-text-stroke:1.0px #fff">(300</div>
<div class="t" style="left:202.26px;top:1610.05px;font-size:51.8px;line-height:51.8px;font-weight:400;font-style:normal;color:#000;transform:scaleX(1.0682);-webkit-text-stroke:1.0px #fff">x</div>
<div class="t" style="left:236.13px;top:1610.05px;font-size:51.8px;line-height:51.8px;font-weight:400;font-style:normal;color:#000;transform:scaleX(1.0568);-webkit-text-stroke:1.0px #fff">300</div>
<div class="t" style="left:334.80px;top:1610.05px;font-size:51.8px;line-height:51.8px;font-weight:400;font-style:normal;color:#000;transform:scaleX(1.1000);-webkit-text-stroke:1.0px #fff">x</div>
<div class="t" style="left:371.90px;top:1610.05px;font-size:51.8px;line-height:51.8px;font-weight:400;font-style:normal;color:#000;transform:scaleX(1.0023);-webkit-text-stroke:1.0px #fff"><svg class="o1" viewBox="0 0 341 688"><path d="M169 0H229V688H169ZM10 0H229V62H10Z"/></svg>0</div>
<div class="t" style="left:427.34px;top:1610.05px;font-size:51.8px;line-height:51.8px;font-weight:400;font-style:normal;color:#000;transform:scaleX(1.0896);-webkit-text-stroke:1.0px #fff">mm)</div>
<div class="t" style="left:672.40px;top:1549.85px;font-size:51.8px;line-height:51.8px;font-weight:400;font-style:normal;color:#000;transform:scaleX(1.0750);-webkit-text-stroke:1.0px #fff">293</div>
<div class="t" style="left:659.62px;top:1610.05px;font-size:51.8px;line-height:51.8px;font-weight:400;font-style:normal;color:#000;transform:scaleX(0.9517);-webkit-text-stroke:1.0px #fff">(27.<svg class="o1" viewBox="0 0 341 688"><path d="M169 0H229V688H169ZM10 0H229V62H10Z"/></svg>)</div>
<div class="t" style="left:992.17px;top:1549.85px;font-size:51.8px;line-height:51.8px;font-weight:400;font-style:normal;color:#000;transform:scaleX(1.0194);-webkit-text-stroke:1.0px #fff"><svg class="o1" viewBox="0 0 341 688"><path d="M169 0H229V688H169ZM10 0H229V62H10Z"/></svg>47</div>
<div class="t" style="left:969.87px;top:1610.05px;font-size:51.8px;line-height:51.8px;font-weight:400;font-style:normal;color:#000;transform:scaleX(0.9517);-webkit-text-stroke:1.0px #fff">(<svg class="o1" viewBox="0 0 341 688"><path d="M169 0H229V688H169ZM10 0H229V62H10Z"/></svg>3.7)</div>
<div class="t" style="left:1307.89px;top:1549.85px;font-size:51.8px;line-height:51.8px;font-weight:400;font-style:normal;color:#000;transform:scaleX(1.0769);-webkit-text-stroke:1.0px #fff">98</div>
<div class="t" style="left:1280.12px;top:1610.05px;font-size:51.8px;line-height:51.8px;font-weight:400;font-style:normal;color:#000;transform:scaleX(0.9517);-webkit-text-stroke:1.0px #fff">(9.<svg class="o1" viewBox="0 0 341 688"><path d="M169 0H229V688H169ZM10 0H229V62H10Z"/></svg>0)</div>
<div class="t" style="left:1618.21px;top:1549.85px;font-size:51.8px;line-height:51.8px;font-weight:400;font-style:normal;color:#000;transform:scaleX(1.0566);-webkit-text-stroke:1.0px #fff">74</div>
<div class="t" style="left:1584.00px;top:1610.05px;font-size:51.8px;line-height:51.8px;font-weight:400;font-style:normal;color:#000;transform:scaleX(0.9685);-webkit-text-stroke:1.0px #fff">(6.87)</div>
<div class="t" style="left:1929.51px;top:1549.85px;font-size:51.8px;line-height:51.8px;font-weight:400;font-style:normal;color:#000;transform:scaleX(1.0566);-webkit-text-stroke:1.0px #fff">49</div>
<div class="t" style="left:1894.25px;top:1610.05px;font-size:51.8px;line-height:51.8px;font-weight:400;font-style:normal;color:#000;transform:scaleX(0.9685);-webkit-text-stroke:1.0px #fff">(4.55)</div>
<div class="t" style="left:2238.58px;top:1549.85px;font-size:51.8px;line-height:51.8px;font-weight:400;font-style:normal;color:#000;transform:scaleX(1.0980);-webkit-text-stroke:1.0px #fff">37</div>
<div class="t" style="left:2204.50px;top:1610.05px;font-size:51.8px;line-height:51.8px;font-weight:400;font-style:normal;color:#000;transform:scaleX(0.9685);-webkit-text-stroke:1.0px #fff">(3.44)</div>
<div class="t" style="left:91.20px;top:1688.55px;font-size:51.8px;line-height:51.8px;font-weight:400;font-style:normal;color:#000;transform:scaleX(0.9081);-webkit-text-stroke:1.0px #e5e6e8"><svg class="o1" viewBox="0 0 341 688"><path d="M169 0H229V688H169ZM10 0H229V62H10Z"/></svg>2&quot;</div>
<div class="t" style="left:158.16px;top:1688.55px;font-size:51.8px;line-height:51.8px;font-weight:400;font-style:normal;color:#000;transform:scaleX(1.0682);-webkit-text-stroke:1.0px #e5e6e8">x</div>
<div class="t" style="left:193.09px;top:1688.55px;font-size:51.8px;line-height:51.8px;font-weight:400;font-style:normal;color:#000;transform:scaleX(0.9357);-webkit-text-stroke:1.0px #e5e6e8">24&quot;</div>
<div class="t" style="left:272.06px;top:1688.55px;font-size:51.8px;line-height:51.8px;font-weight:400;font-style:normal;color:#000;transform:scaleX(1.0682);-webkit-text-stroke:1.0px #e5e6e8">x</div>
<div class="t" style="left:306.88px;top:1688.55px;font-size:51.8px;line-height:51.8px;font-weight:400;font-style:normal;color:#000;transform:scaleX(0.9729);-webkit-text-stroke:1.0px #e5e6e8">3/8&quot;</div>
<div class="t" style="left:92.27px;top:1748.45px;font-size:51.8px;line-height:51.8px;font-weight:400;font-style:normal;color:#000;transform:scaleX(0.9835);-webkit-text-stroke:1.0px #e5e6e8">(300</div>
<div class="t" style="left:202.26px;top:1748.45px;font-size:51.8px;line-height:51.8px;font-weight:400;font-style:normal;color:#000;transform:scaleX(1.0682);-webkit-text-stroke:1.0px #e5e6e8">x</div>
<div class="t" style="left:237.53px;top:1748.45px;font-size:51.8px;line-height:51.8px;font-weight:400;font-style:normal;color:#000;transform:scaleX(1.0568);-webkit-text-stroke:1.0px #e5e6e8">600</div>
<div class="t" style="left:337.70px;top:1748.45px;font-size:51.8px;line-height:51.8px;font-weight:400;font-style:normal;color:#000;transform:scaleX(1.1000);-webkit-text-stroke:1.0px #e5e6e8">x</div>
<div class="t" style="left:374.00px;top:1748.45px;font-size:51.8px;line-height:51.8px;font-weight:400;font-style:normal;color:#000;transform:scaleX(1.0205);-webkit-text-stroke:1.0px #e5e6e8"><svg class="o1" viewBox="0 0 341 688"><path d="M169 0H229V688H169ZM10 0H229V62H10Z"/></svg>0</div>
<div class="t" style="left:430.14px;top:1748.45px;font-size:51.8px;line-height:51.8px;font-weight:400;font-style:normal;color:#000;transform:scaleX(1.0906);-webkit-text-stroke:1.0px #e5e6e8">mm)</div>
<div class="t" style="left:678.64px;top:1688.25px;font-size:51.8px;line-height:51.8px;font-weight:400;font-style:normal;color:#000;transform:scaleX(1.0955);-webkit-text-stroke:1.0px #e5e6e8">39<svg class="o1" viewBox="0 0 341 688"><path d="M169 0H229V688H169ZM10 0H229V62H10Z"/></svg></div>
<div class="t" style="left:653.25px;top:1748.45px;font-size:51.8px;line-height:51.8px;font-weight:400;font-style:normal;color:#000;transform:scaleX(0.9685);-webkit-text-stroke:1.0px #e5e6e8">(36.3)</div>
<div class="t" style="left:992.17px;top:1688.25px;font-size:51.8px;line-height:51.8px;font-weight:400;font-style:normal;color:#000;transform:scaleX(1.0055);-webkit-text-stroke:1.0px #e5e6e8"><svg class="o1" viewBox="0 0 341 688"><path d="M169 0H229V688H169ZM10 0H229V62H10Z"/></svg>96</div>
<div class="t" style="left:969.87px;top:1748.45px;font-size:51.8px;line-height:51.8px;font-weight:400;font-style:normal;color:#000;transform:scaleX(0.9517);-webkit-text-stroke:1.0px #e5e6e8">(<svg class="o1" viewBox="0 0 341 688"><path d="M169 0H229V688H169ZM10 0H229V62H10Z"/></svg>8.2)</div>
<div class="t" style="left:1308.72px;top:1688.25px;font-size:51.8px;line-height:51.8px;font-weight:400;font-style:normal;color:#000;transform:scaleX(1.0483);-webkit-text-stroke:1.0px #e5e6e8"><svg class="o1" viewBox="0 0 341 688"><path d="M169 0H229V688H169ZM10 0H229V62H10Z"/></svg>3<svg class="o1" viewBox="0 0 341 688"><path d="M169 0H229V688H169ZM10 0H229V62H10Z"/></svg></div>
<div class="t" style="left:1280.12px;top:1748.45px;font-size:51.8px;line-height:51.8px;font-weight:400;font-style:normal;color:#000;transform:scaleX(0.9517);-webkit-text-stroke:1.0px #e5e6e8">(<svg class="o1" viewBox="0 0 341 688"><path d="M169 0H229V688H169ZM10 0H229V62H10Z"/></svg>2.2)</div>
<div class="t" style="left:1618.14px;top:1688.25px;font-size:51.8px;line-height:51.8px;font-weight:400;font-style:normal;color:#000;transform:scaleX(1.0769);-webkit-text-stroke:1.0px #e5e6e8">98</div>
<div class="t" style="left:1590.37px;top:1748.45px;font-size:51.8px;line-height:51.8px;font-weight:400;font-style:normal;color:#000;transform:scaleX(0.9517);-webkit-text-stroke:1.0px #e5e6e8">(9.<svg class="o1" viewBox="0 0 341 688"><path d="M169 0H229V688H169ZM10 0H229V62H10Z"/></svg>0)</div>
<div class="t" style="left:1928.39px;top:1688.25px;font-size:51.8px;line-height:51.8px;font-weight:400;font-style:normal;color:#000;transform:scaleX(1.0769);-webkit-text-stroke:1.0px #e5e6e8">66</div>
<div class="t" style="left:1900.62px;top:1748.45px;font-size:51.8px;line-height:51.8px;font-weight:400;font-style:normal;color:#000;transform:scaleX(0.9517);-webkit-text-stroke:1.0px #e5e6e8">(6.<svg class="o1" viewBox="0 0 341 688"><path d="M169 0H229V688H169ZM10 0H229V62H10Z"/></svg>3)</div>
<div class="t" style="left:2239.76px;top:1688.25px;font-size:51.8px;line-height:51.8px;font-weight:400;font-style:normal;color:#000;transform:scaleX(1.0566);-webkit-text-stroke:1.0px #e5e6e8">49</div>
<div class="t" style="left:2204.50px;top:1748.45px;font-size:51.8px;line-height:51.8px;font-weight:400;font-style:normal;color:#000;transform:scaleX(0.9685);-webkit-text-stroke:1.0px #e5e6e8">(4.55)</div>
<div class="t" style="left:91.40px;top:1826.95px;font-size:51.8px;line-height:51.8px;font-weight:400;font-style:normal;color:#000;transform:scaleX(0.9613);-webkit-text-stroke:1.0px #fff"><svg class="o1" viewBox="0 0 341 688"><path d="M169 0H229V688H169ZM10 0H229V62H10Z"/></svg>8&quot;</div>
<div class="t" style="left:161.90px;top:1826.95px;font-size:51.8px;line-height:51.8px;font-weight:400;font-style:normal;color:#000;transform:scaleX(1.1000);-webkit-text-stroke:1.0px #fff">x</div>
<div class="t" style="left:198.80px;top:1826.95px;font-size:51.8px;line-height:51.8px;font-weight:400;font-style:normal;color:#000;transform:scaleX(0.9613);-webkit-text-stroke:1.0px #fff"><svg class="o1" viewBox="0 0 341 688"><path d="M169 0H229V688H169ZM10 0H229V62H10Z"/></svg>8&quot;</div>
<div class="t" style="left:268.60px;top:1826.95px;font-size:51.8px;line-height:51.8px;font-weight:400;font-style:normal;color:#000;transform:scaleX(1.1000);-webkit-text-stroke:1.0px #fff">x</div>
<div class="t" style="left:303.25px;top:1826.95px;font-size:51.8px;line-height:51.8px;font-weight:400;font-style:normal;color:#000;transform:scaleX(0.9824);-webkit-text-stroke:1.0px #fff">3/8&quot;</div>
<div class="t" style="left:92.89px;top:1886.85px;font-size:51.8px;line-height:51.8px;font-weight:400;font-style:normal;color:#000;transform:scaleX(0.9281);-webkit-text-stroke:1.0px #fff">(457</div>
<div class="t" style="left:195.89px;top:1886.85px;font-size:51.8px;line-height:51.8px;font-weight:400;font-style:normal;color:#000;transform:scaleX(1.1045);-webkit-text-stroke:1.0px #fff">x</div>
<div class="t" style="left:232.21px;top:1886.85px;font-size:51.8px;line-height:51.8px;font-weight:400;font-style:normal;color:#000;transform:scaleX(0.9938);-webkit-text-stroke:1.0px #fff">457</div>
<div class="t" style="left:324.00px;top:1886.85px;font-size:51.8px;line-height:51.8px;font-weight:400;font-style:normal;color:#000;transform:scaleX(1.1000);-webkit-text-stroke:1.0px #fff">x</div>
<div class="t" style="left:360.20px;top:1886.85px;font-size:51.8px;line-height:51.8px;font-weight:400;font-style:normal;color:#000;transform:scaleX(1.0568);-webkit-text-stroke:1.0px #fff"><svg class="o1" viewBox="0 0 341 688"><path d="M169 0H229V688H169ZM10 0H229V62H10Z"/></svg>0</div>
<div class="t" style="left:417.46px;top:1886.85px;font-size:51.8px;line-height:51.8px;font-weight:400;font-style:normal;color:#000;transform:scaleX(1.0844);-webkit-text-stroke:1.0px #fff">mm)</div>
<div class="t" style="left:673.53px;top:1826.65px;font-size:51.8px;line-height:51.8px;font-weight:400;font-style:normal;color:#000;transform:scaleX(1.0488);-webkit-text-stroke:1.0px #fff">440</div>
<div class="t" style="left:653.25px;top:1886.85px;font-size:51.8px;line-height:51.8px;font-weight:400;font-style:normal;color:#000;transform:scaleX(0.9685);-webkit-text-stroke:1.0px #fff">(40.9)</div>
<div class="t" style="left:982.69px;top:1826.65px;font-size:51.8px;line-height:51.8px;font-weight:400;font-style:normal;color:#000;transform:scaleX(1.0617);-webkit-text-stroke:1.0px #fff">220</div>
<div class="t" style="left:963.50px;top:1886.85px;font-size:51.8px;line-height:51.8px;font-weight:400;font-style:normal;color:#000;transform:scaleX(0.9685);-webkit-text-stroke:1.0px #fff">(20.4)</div>
<div class="t" style="left:1302.42px;top:1826.65px;font-size:51.8px;line-height:51.8px;font-weight:400;font-style:normal;color:#000;transform:scaleX(1.0194);-webkit-text-stroke:1.0px #fff"><svg class="o1" viewBox="0 0 341 688"><path d="M169 0H229V688H169ZM10 0H229V62H10Z"/></svg>47</div>
<div class="t" style="left:1280.12px;top:1886.85px;font-size:51.8px;line-height:51.8px;font-weight:400;font-style:normal;color:#000;transform:scaleX(0.9517);-webkit-text-stroke:1.0px #fff">(<svg class="o1" viewBox="0 0 341 688"><path d="M169 0H229V688H169ZM10 0H229V62H10Z"/></svg>3.7)</div>
<div class="t" style="left:1618.97px;top:1826.65px;font-size:51.8px;line-height:51.8px;font-weight:400;font-style:normal;color:#000;transform:scaleX(0.9967);-webkit-text-stroke:1.0px #fff"><svg class="o1" viewBox="0 0 341 688"><path d="M169 0H229V688H169ZM10 0H229V62H10Z"/></svg><svg class="o1" viewBox="0 0 341 688"><path d="M169 0H229V688H169ZM10 0H229V62H10Z"/></svg>0</div>
<div class="t" style="left:1590.37px;top:1886.85px;font-size:51.8px;line-height:51.8px;font-weight:400;font-style:normal;color:#000;transform:scaleX(0.9517);-webkit-text-stroke:1.0px #fff">(<svg class="o1" viewBox="0 0 341 688"><path d="M169 0H229V688H169ZM10 0H229V62H10Z"/></svg>0.2)</div>
<div class="t" style="left:1928.46px;top:1826.65px;font-size:51.8px;line-height:51.8px;font-weight:400;font-style:normal;color:#000;transform:scaleX(1.0566);-webkit-text-stroke:1.0px #fff">74</div>
<div class="t" style="left:1894.25px;top:1886.85px;font-size:51.8px;line-height:51.8px;font-weight:400;font-style:normal;color:#000;transform:scaleX(0.9685);-webkit-text-stroke:1.0px #fff">(6.87)</div>
<div class="t" style="left:2238.64px;top:1826.65px;font-size:51.8px;line-height:51.8px;font-weight:400;font-style:normal;color:#000;transform:scaleX(1.0769);-webkit-text-stroke:1.0px #fff">55</div>
<div class="t" style="left:2217.25px;top:1886.85px;font-size:51.8px;line-height:51.8px;font-weight:400;font-style:normal;color:#000;transform:scaleX(0.9314);-webkit-text-stroke:1.0px #fff">(5.<svg class="o1" viewBox="0 0 341 688"><path d="M169 0H229V688H169ZM10 0H229V62H10Z"/></svg><svg class="o1" viewBox="0 0 341 688"><path d="M169 0H229V688H169ZM10 0H229V62H10Z"/></svg>)</div>
<div class="t" style="left:105.05px;top:1981.80px;font-size:50.1px;line-height:50.1px;font-weight:400;font-style:italic;color:#000;transform:scaleX(1.0840);-webkit-text-stroke:1.2px #fff">Coverage</div>
<div class="t" style="left:350.47px;top:1981.80px;font-size:50.1px;line-height:50.1px;font-weight:400;font-style:italic;color:#000;transform:scaleX(1.1312);-webkit-text-stroke:1.2px #fff">shown</div>
<div class="t" style="left:526.57px;top:1981.80px;font-size:50.1px;line-height:50.1px;font-weight:400;font-style:italic;color:#000;transform:scaleX(1.0656);-webkit-text-stroke:1.2px #fff">is</div>
<div class="t" style="left:578.17px;top:1981.80px;font-size:50.1px;line-height:50.1px;font-weight:400;font-style:italic;color:#000;transform:scaleX(1.1089);-webkit-text-stroke:1.2px #fff">for</div>
<div class="t" style="left:653.66px;top:1981.80px;font-size:50.1px;line-height:50.1px;font-weight:400;font-style:italic;color:#000;transform:scaleX(1.1689);-webkit-text-stroke:1.2px #fff">estimating</div>
<div class="t" style="left:933.50px;top:1981.80px;font-size:50.1px;line-height:50.1px;font-weight:400;font-style:italic;color:#000;transform:scaleX(1.0961);-webkit-text-stroke:1.2px #fff">purposes</div>
<div class="t" style="left:1169.39px;top:1981.80px;font-size:50.1px;line-height:50.1px;font-weight:400;font-style:italic;color:#000;transform:scaleX(1.1032);-webkit-text-stroke:1.2px #fff">only.</div>
<div class="t" style="left:1291.84px;top:1981.80px;font-size:50.1px;line-height:50.1px;font-weight:400;font-style:italic;color:#000;transform:scaleX(1.1386);-webkit-text-stroke:1.2px #fff">Actual</div>
<div class="t" style="left:1460.95px;top:1981.80px;font-size:50.1px;line-height:50.1px;font-weight:400;font-style:italic;color:#000;transform:scaleX(1.1299);-webkit-text-stroke:1.2px #fff">jobsite</div>
<div class="t" style="left:1635.11px;top:1981.80px;font-size:50.1px;line-height:50.1px;font-weight:400;font-style:italic;color:#000;transform:scaleX(1.0965);-webkit-text-stroke:1.2px #fff">coverage</div>
<div class="t" style="left:1873.04px;top:1981.80px;font-size:50.1px;line-height:50.1px;font-weight:400;font-style:italic;color:#000;transform:scaleX(1.1777);-webkit-text-stroke:1.2px #fff">may</div>
<div class="t" style="left:1997.24px;top:1981.80px;font-size:50.1px;line-height:50.1px;font-weight:400;font-style:italic;color:#000;transform:scaleX(1.1141);-webkit-text-stroke:1.2px #fff">vary</div>
<div class="t" style="left:2114.34px;top:1981.80px;font-size:50.1px;line-height:50.1px;font-weight:400;font-style:italic;color:#000;transform:scaleX(1.1322);-webkit-text-stroke:1.2px #fff">according</div>
<div class="t" style="left:105.77px;top:2041.80px;font-size:50.1px;line-height:50.1px;font-weight:400;font-style:italic;color:#000;transform:scaleX(1.1757);-webkit-text-stroke:1.2px #fff">to</div>
<div class="t" style="left:166.04px;top:2041.80px;font-size:50.1px;line-height:50.1px;font-weight:400;font-style:italic;color:#000;transform:scaleX(1.1295);-webkit-text-stroke:1.2px #fff">actual</div>
<div class="t" style="left:328.53px;top:2041.80px;font-size:50.1px;line-height:50.1px;font-weight:400;font-style:italic;color:#000;transform:scaleX(1.1220);-webkit-text-stroke:1.2px #fff">tile</div>
<div class="t" style="left:409.63px;top:2041.80px;font-size:50.1px;line-height:50.1px;font-weight:400;font-style:italic;color:#000;transform:scaleX(0.9744);-webkit-text-stroke:1.2px #fff">size</div>
<div class="t" style="left:507.70px;top:2041.80px;font-size:50.1px;line-height:50.1px;font-weight:400;font-style:italic;color:#000;transform:scaleX(1.1488);-webkit-text-stroke:1.2px #fff">and</div>
<div class="t" style="left:615.54px;top:2041.80px;font-size:50.1px;line-height:50.1px;font-weight:400;font-style:italic;color:#000;transform:scaleX(1.0545);-webkit-text-stroke:1.2px #fff">thickness,</div>
<div class="t" style="left:859.81px;top:2041.80px;font-size:50.1px;line-height:50.1px;font-weight:400;font-style:italic;color:#000;transform:scaleX(1.0975);-webkit-text-stroke:1.2px #fff">exact</div>
<div class="t" style="left:1004.90px;top:2041.80px;font-size:50.1px;line-height:50.1px;font-weight:400;font-style:italic;color:#000;transform:scaleX(1.0796);-webkit-text-stroke:1.2px #fff">joint</div>
<div class="t" style="left:1116.33px;top:2041.80px;font-size:50.1px;line-height:50.1px;font-weight:400;font-style:italic;color:#000;transform:scaleX(1.1562);-webkit-text-stroke:1.2px #fff">width,</div>
<div class="t" style="left:1272.67px;top:2041.80px;font-size:50.1px;line-height:50.1px;font-weight:400;font-style:italic;color:#000;transform:scaleX(1.1543);-webkit-text-stroke:1.2px #fff">job</div>
<div class="t" style="left:1362.03px;top:2041.80px;font-size:50.1px;line-height:50.1px;font-weight:400;font-style:italic;color:#000;transform:scaleX(1.0869);-webkit-text-stroke:1.2px #fff">conditions</div>
<div class="t" style="left:1617.40px;top:2041.80px;font-size:50.1px;line-height:50.1px;font-weight:400;font-style:italic;color:#000;transform:scaleX(1.1488);-webkit-text-stroke:1.2px #fff">and</div>
<div class="t" style="left:1725.17px;top:2041.80px;font-size:50.1px;line-height:50.1px;font-weight:400;font-style:italic;color:#000;transform:scaleX(1.1279);-webkit-text-stroke:1.2px #fff">grouting</div>
<div class="t" style="left:1942.48px;top:2041.80px;font-size:50.1px;line-height:50.1px;font-weight:400;font-style:italic;color:#000;transform:scaleX(1.1091);-webkit-text-stroke:1.2px #fff">methods.</div>
<div class="t" style="left:2178.76px;top:2041.80px;font-size:50.1px;line-height:50.1px;font-weight:400;font-style:italic;color:#000;transform:scaleX(1.0470);-webkit-text-stroke:1.2px #fff">Consult</div>
<div class="t" style="left:107.26px;top:2101.60px;font-size:50.1px;line-height:50.1px;font-weight:400;font-style:italic;color:#000;transform:scaleX(1.0187);-webkit-text-stroke:1.2px #fff">MAPEI’s</div>
<div class="t" style="left:311.90px;top:2101.60px;font-size:50.1px;line-height:50.1px;font-weight:400;font-style:italic;color:#000;transform:scaleX(1.1010);-webkit-text-stroke:1.2px #fff">Technical</div>
<div class="t" style="left:553.43px;top:2101.60px;font-size:50.1px;line-height:50.1px;font-weight:400;font-style:italic;color:#000;transform:scaleX(1.0572);-webkit-text-stroke:1.2px #fff">Services</div>
<div class="t" style="left:768.56px;top:2101.60px;font-size:50.1px;line-height:50.1px;font-weight:400;font-style:italic;color:#000;transform:scaleX(1.1708);-webkit-text-stroke:1.2px #fff">Department</div>
<div class="t" style="left:1087.59px;top:2101.60px;font-size:50.1px;line-height:50.1px;font-weight:400;font-style:italic;color:#000;transform:scaleX(1.1070);-webkit-text-stroke:1.2px #fff">or</div>
<div class="t" style="left:1150.73px;top:2101.60px;font-size:50.1px;line-height:50.1px;font-weight:400;font-style:italic;color:#000;transform:scaleX(1.0907);-webkit-text-stroke:1.2px #fff">use</div>
<div class="t" style="left:1248.81px;top:2101.60px;font-size:50.1px;line-height:50.1px;font-weight:400;font-style:italic;color:#000;transform:scaleX(1.1969);-webkit-text-stroke:1.2px #fff">the</div>
<div class="t" style="left:1342.34px;top:2101.60px;font-size:50.1px;line-height:50.1px;font-weight:400;font-style:italic;color:#000;transform:scaleX(1.1623);-webkit-text-stroke:1.2px #fff">grout</div>
<div class="t" style="left:1488.23px;top:2101.60px;font-size:50.1px;line-height:50.1px;font-weight:400;font-style:italic;color:#000;transform:scaleX(1.1362);-webkit-text-stroke:1.2px #fff">calculator</div>
<div class="t" style="left:1744.57px;top:2101.60px;font-size:50.1px;line-height:50.1px;font-weight:400;font-style:italic;color:#000;transform:scaleX(1.2175);-webkit-text-stroke:1.2px #fff">at</div>
<div class="t" style="left:1809.84px;top:2101.60px;font-size:50.1px;line-height:50.1px;font-weight:400;font-style:italic;color:#000;transform:scaleX(1.1526);-webkit-text-stroke:1.2px #fff">www.mapei.com</div>
<div class="t" style="left:2242.19px;top:2101.60px;font-size:50.1px;line-height:50.1px;font-weight:400;font-style:italic;color:#000;transform:scaleX(1.2027);-webkit-text-stroke:1.2px #fff">to</div>
<div class="t" style="left:106.02px;top:2161.60px;font-size:50.1px;line-height:50.1px;font-weight:400;font-style:italic;color:#000;transform:scaleX(1.1394);-webkit-text-stroke:1.2px #fff">determine</div>
<div class="t" style="left:370.71px;top:2161.60px;font-size:50.1px;line-height:50.1px;font-weight:400;font-style:italic;color:#000;transform:scaleX(1.1969);-webkit-text-stroke:1.2px #fff">the</div>
<div class="t" style="left:465.15px;top:2161.60px;font-size:50.1px;line-height:50.1px;font-weight:400;font-style:italic;color:#000;transform:scaleX(1.1729);-webkit-text-stroke:1.2px #fff">amount</div>
<div class="t" style="left:675.43px;top:2161.60px;font-size:50.1px;line-height:50.1px;font-weight:400;font-style:italic;color:#000;transform:scaleX(1.1326);-webkit-text-stroke:1.2px #fff">of</div>
<div class="t" style="left:735.70px;top:2161.60px;font-size:50.1px;line-height:50.1px;font-weight:400;font-style:italic;color:#000;transform:scaleX(1.1464);-webkit-text-stroke:1.2px #fff">product</div>
<div class="t" style="left:942.68px;top:2161.60px;font-size:50.1px;line-height:50.1px;font-weight:400;font-style:italic;color:#000;transform:scaleX(1.1102);-webkit-text-stroke:1.2px #fff">needed</div>
<div class="t" style="left:1141.32px;top:2161.60px;font-size:50.1px;line-height:50.1px;font-weight:400;font-style:italic;color:#000;transform:scaleX(1.1268);-webkit-text-stroke:1.2px #fff">for</div>
<div class="t" style="left:1221.30px;top:2161.60px;font-size:50.1px;line-height:50.1px;font-weight:400;font-style:italic;color:#000;transform:scaleX(1.1245);-webkit-text-stroke:1.2px #fff">project</div>
<div class="t" style="left:1403.36px;top:2161.60px;font-size:50.1px;line-height:50.1px;font-weight:400;font-style:italic;color:#000;transform:scaleX(1.1205);-webkit-text-stroke:1.2px #fff">criteria</div>
<div class="t" style="left:1585.49px;top:2161.60px;font-size:50.1px;line-height:50.1px;font-weight:400;font-style:italic;color:#000;transform:scaleX(1.1544);-webkit-text-stroke:1.2px #fff">not</div>
<div class="t" style="left:1680.70px;top:2161.60px;font-size:50.1px;line-height:50.1px;font-weight:400;font-style:italic;color:#000;transform:scaleX(1.1033);-webkit-text-stroke:1.2px #fff">shown.</div>
</body></html>
